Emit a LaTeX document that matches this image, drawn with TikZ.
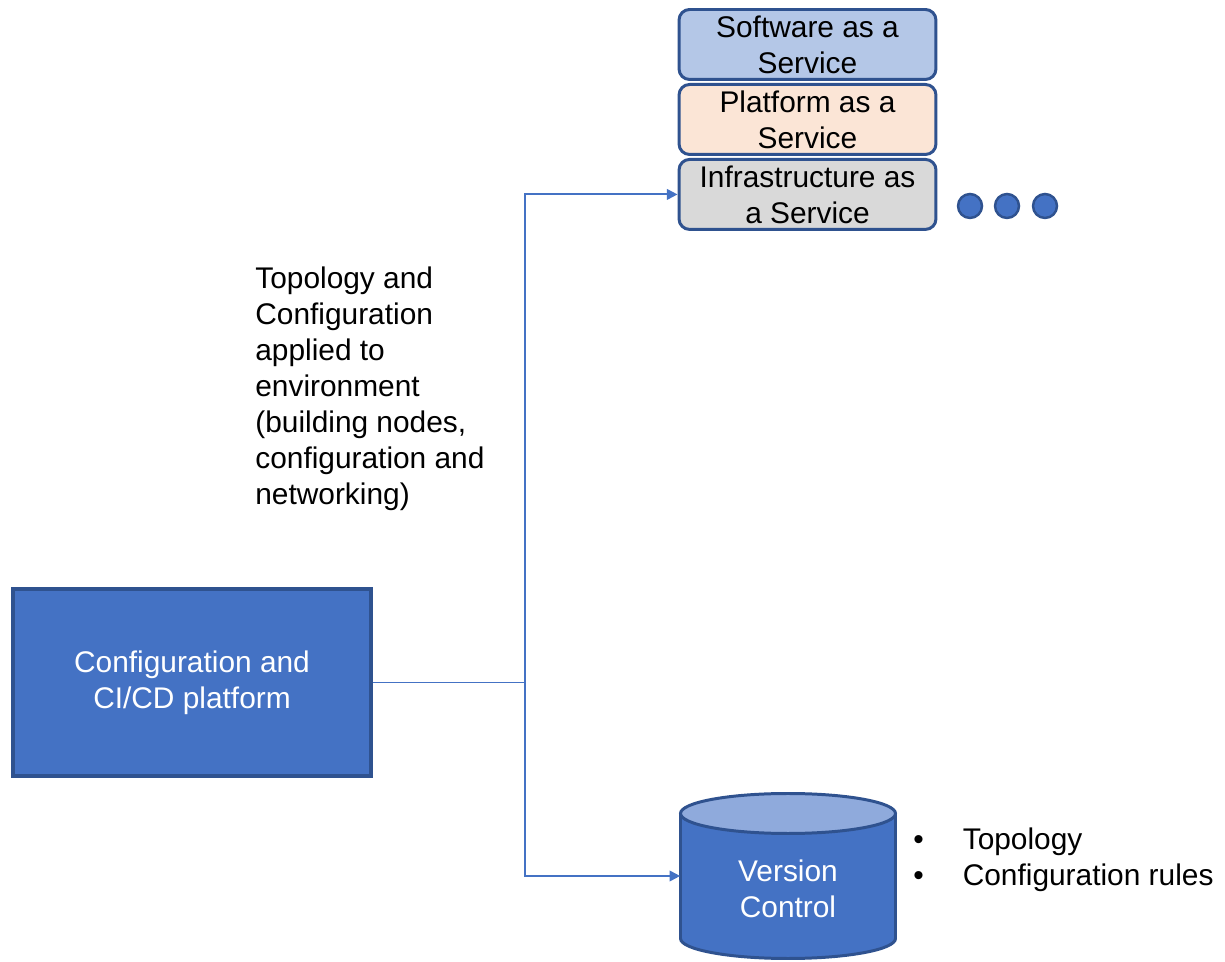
\documentclass[tikz,border=0pt]{standalone}
\usepackage{fontspec}
\setmainfont{Liberation Sans}
\usetikzlibrary{arrows.meta,positioning}
\definecolor{bluefill}{HTML}{4472C4}
\definecolor{blueline}{HTML}{2F528F}
\definecolor{saasfill}{HTML}{B4C7E7}
\definecolor{paasfill}{HTML}{FBE5D6}
\definecolor{iaasfill}{HTML}{D9D9D9}
\definecolor{cyltop}{HTML}{8FAADC}

\begin{document}
\begin{tikzpicture}[x=0.02cm,y=-0.02cm,
  font=\fontsize{17}{20.4}\selectfont,
  layer/.style={draw=blueline,line width=1.7pt,rounded corners=6pt,minimum width=5.14cm,minimum height=1.4cm,align=center,inner sep=0pt},
  dot/.style={circle,draw=blueline,fill=bluefill,line width=1.4pt,minimum size=0.48cm,inner sep=0pt},
  link/.style={draw=bluefill,line width=1.1pt,-{Triangle[length=6pt,width=6pt]}}]
  \useasboundingbox (0,0) rectangle (1225,962);
  % Plataforma
  \node[draw=blueline,fill=bluefill,line width=2pt,minimum width=7.16cm,minimum height=3.74cm,align=center,text=white] (cicd) at (192,682.5) {Configuration and\\CI/CD platform};
  % Capas de servicio
  \node[layer,fill=saasfill] (saas) at (807.5,44.5) {Software as a\\Service};
  \node[layer,fill=paasfill,below=0.04cm of saas] (paas) {Platform as a\\Service};
  \node[layer,fill=iaasfill,below=0.04cm of paas] (iaas) {Infrastructure as\\a Service};
  % Puntos
  \foreach \i/\x in {1/970,2/1007,3/1045}
    \node[dot] (dot\i) at (\x,206) {};
  % Repositorio
  \node[minimum width=4.3cm,minimum height=3.3cm,inner sep=0pt] (vc) at (788,876) {};
  \draw[draw=blueline,fill=bluefill,line width=1.7pt] (680.5,813.5) -- (680.5,938.5)
    arc[start angle=180,end angle=0,x radius=107.5,y radius=20] -- (895.5,813.5);
  \draw[draw=blueline,fill=cyltop,line width=1.7pt] (788,813.5) ellipse[x radius=107.5,y radius=20];
  \node[text=white,align=center] (vctext) at ([yshift=-0.26cm]vc.center) {Version\\Control};
  % Conectores
  \coordinate (split) at (525,682.5);
  \draw[draw=bluefill,line width=1.1pt] (cicd.east) -- (split);
  \draw[link] (split) |- (iaas.west);
  \draw[link] (split) |- (vc.west);
  % Texto
  \node[anchor=north west,align=left,inner sep=0pt] (note) at (255,267)
    {Topology and\\Configuration\\applied to\\environment\\(building nodes,\\configuration and\\networking)};
  \node[anchor=west,inner sep=0pt] (rules) at (913,860)
    {\begin{tabular}{@{}l@{\hspace{0.78cm}}l@{}}\textbullet & Topology\\ \textbullet & Configuration rules\end{tabular}};
\end{tikzpicture}
\end{document}
